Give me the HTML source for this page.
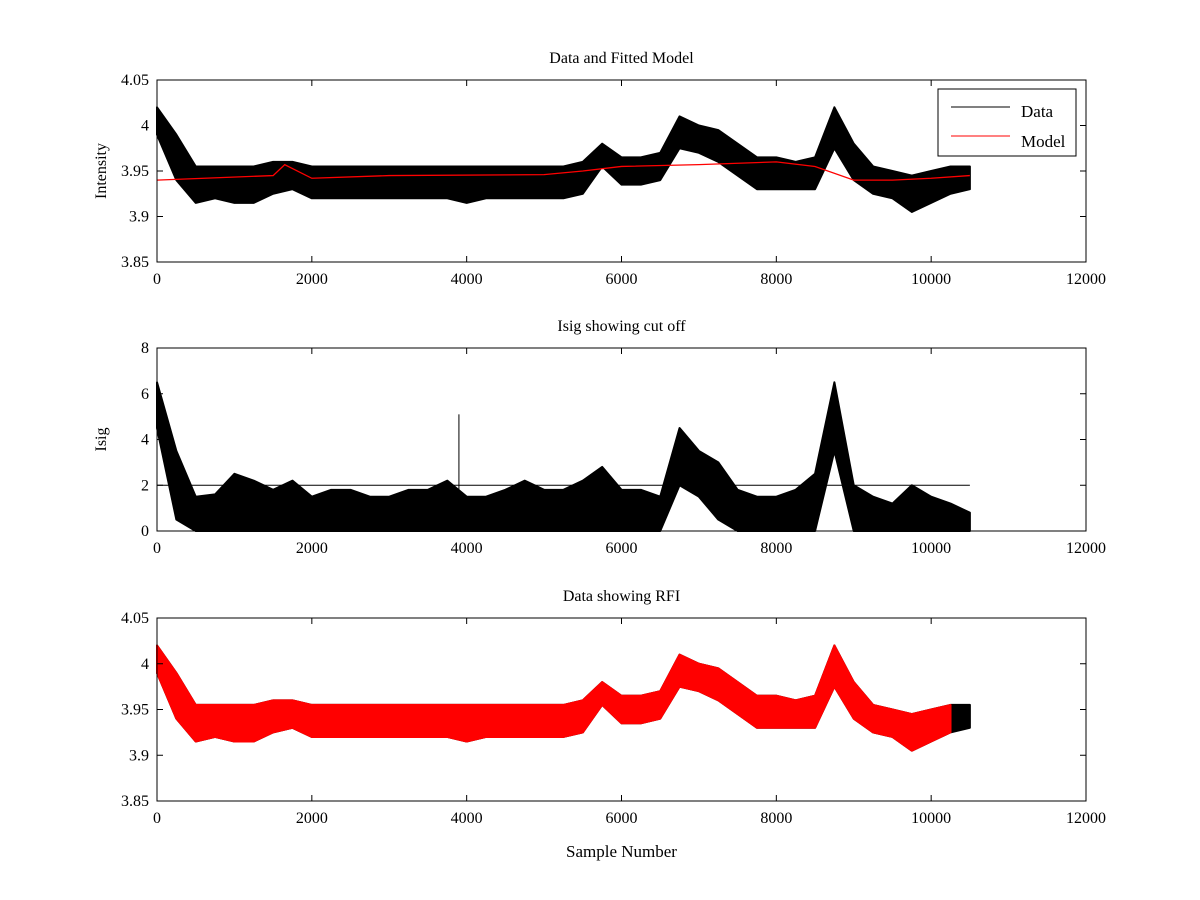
<!DOCTYPE html>
<html><head><meta charset="utf-8"><style>
body{margin:0;background:#fff}
svg{display:block;font-family:"Liberation Serif",serif}
</style></head><body>
<svg id="chart" width="1200" height="900" xmlns="http://www.w3.org/2000/svg"></svg>
<script>
// sample positions of the bins (every 250 samples)
const samples = [0,250,500,750,1000,1250,1500,1750,2000,2250,2500,2750,3000,3250,3500,3750,4000,4250,4500,4750,5000,5250,5500,5750,6000,6250,6500,6750,7000,7250,7500,7750,8000,8250,8500,8750,9000,9250,9500,9750,10000,10250,10500];
const dataMid  = [4.01,3.97,3.94,3.935,3.935,3.94,3.945,3.945,3.94,3.94,3.94,3.94,3.935,3.935,3.94,3.935,3.935,3.935,3.935,3.935,3.94,3.94,3.945,3.97,3.95,3.95,3.955,3.995,3.99,3.98,3.965,3.95,3.945,3.945,3.95,3.995,3.96,3.94,3.935,3.925,3.935,3.94,3.945];
const dataLow  = [3.99,3.94,3.915,3.92,3.915,3.915,3.925,3.93,3.92,3.92,3.92,3.92,3.92,3.92,3.92,3.92,3.915,3.92,3.92,3.92,3.92,3.92,3.925,3.955,3.935,3.935,3.94,3.975,3.97,3.96,3.945,3.93,3.93,3.93,3.93,3.975,3.94,3.925,3.92,3.905,3.915,3.925,3.93];
const dataHigh = [4.02,3.99,3.955,3.955,3.955,3.955,3.96,3.96,3.955,3.955,3.955,3.955,3.955,3.955,3.955,3.955,3.955,3.955,3.955,3.955,3.955,3.955,3.96,3.98,3.965,3.965,3.97,4.01,4.0,3.995,3.98,3.965,3.965,3.96,3.965,4.02,3.98,3.955,3.95,3.945,3.95,3.955,3.955];
const modelX = [0,1500,1650,2000,3000,5000,5500,6000,7000,8000,8500,9000,9500,10000,10500];
const modelY = [3.94,3.945,3.957,3.942,3.945,3.946,3.95,3.955,3.957,3.96,3.955,3.94,3.94,3.942,3.945];
const isigLow  = [4.5,0.5,0,0,0,0,0,0,0,0,0,0,0,0,0,0,0,0,0,0,0,0,0,0,0,0,0,2,1.5,0.5,0,0,0,0,0,3.5,0,0,0,0,0,0,0];
const isigHigh = [6.5,3.5,1.5,1.6,2.5,2.2,1.8,2.2,1.5,1.8,1.8,1.5,1.5,1.8,1.8,2.2,1.5,1.5,1.8,2.2,1.8,1.8,2.2,2.8,1.8,1.8,1.5,4.5,3.5,3,1.8,1.5,1.5,1.8,2.5,6.5,2,1.5,1.2,2,1.5,1.2,0.8];
const cutoff = 2;
const xTicks = [0,2000,4000,6000,8000,10000,12000];

const NS="http://www.w3.org/2000/svg";
const svg=document.getElementById('chart');
function el(tag,attrs,parent){const e=document.createElementNS(NS,tag);for(const k in attrs)e.setAttribute(k,attrs[k]);(parent||svg).appendChild(e);return e;}
const L=157,R=1086;
const xs=v=>L+(v/12000)*(R-L);

function axes(name,top,bot,ymin,ymax,yTicks,title,ylabel,xlabel){
  const g=el('g',{});
  
  
  const ys=v=>bot-(v-ymin)/(ymax-ymin)*(bot-top);
  const r=el('rect',{x:L,y:top,width:R-L,height:bot-top,fill:'#fff',stroke:'#000','stroke-width':1},g);
  
  return {g,ys,draw(){
    xTicks.forEach(t=>{const x=xs(t);
      el('line',{x1:x,x2:x,y1:bot,y2:bot-6,stroke:'#000'},g);
      el('line',{x1:x,x2:x,y1:top,y2:top+6,stroke:'#000'},g);
      const tx=el('text',{x:x,y:bot+22,'text-anchor':'middle','font-size':16},g);tx.textContent=t;
      });
    yTicks.forEach(t=>{const y=ys(t);
      el('line',{x1:L,x2:L+6,y1:y,y2:y,stroke:'#000'},g);
      el('line',{x1:R,x2:R-6,y1:y,y2:y,stroke:'#000'},g);
      const tx=el('text',{x:L-8,y:y+5,'text-anchor':'end','font-size':16},g);tx.textContent=t;
      });
    el('rect',{x:L,y:top,width:R-L,height:bot-top,fill:'none',stroke:'#000'},g);
    const tt=el('text',{x:(L+R)/2,y:top-17,'text-anchor':'middle','font-size':16},g);tt.textContent=title;
    
    if(ylabel){const yl=el('text',{x:0,y:0,'text-anchor':'middle','font-size':16,transform:`translate(106,${(top+bot)/2}) rotate(-90)`},g);yl.textContent=ylabel;
      }
    if(xlabel){const xl=el('text',{x:(L+R)/2,y:bot+56,'text-anchor':'middle','font-size':17},g);xl.textContent=xlabel;
      }
  }};
}
function band(g,ys,low,high,color,name,xmax){
  const idx=samples.map((s,i)=>i).filter(i=>samples[i]<=xmax);
  const pts=idx.map(i=>xs(samples[i])+','+ys(high[i])).concat(idx.slice().reverse().map(i=>xs(samples[i])+','+ys(low[i])));
  const p=el('polygon',{points:pts.join(' '),fill:color,stroke:color,'stroke-width':2,'stroke-linejoin':'round'},g);
  
}
function line(g,ys,xa,ya,color,name,w){
  const p=el('polyline',{points:xa.map((x,i)=>xs(x)+','+ys(ya[i])).join(' '),fill:'none',stroke:color,'stroke-width':w||1},g);
  
}

// Panel 1
const a1=axes('data-model-panel',80,262,3.85,4.05,[3.85,3.9,3.95,4,4.05],'Data and Fitted Model','Intensity');
band(a1.g,a1.ys,dataLow,dataHigh,'#000','data-series',10500);
line(a1.g,a1.ys,modelX,modelY,'#f00','model-series',1.3);
a1.draw();
const lg=el('g',{});
el('rect',{x:938,y:89,width:138,height:67,fill:'#fff',stroke:'#000'},lg);
el('line',{x1:951,x2:1010,y1:107,y2:107,stroke:'#000'},lg);
el('line',{x1:951,x2:1010,y1:136,y2:136,stroke:'#f00'},lg);
const l1=el('text',{x:1021,y:117,'font-size':17},lg);l1.textContent='Data';
const l2=el('text',{x:1021,y:147,'font-size':17},lg);l2.textContent='Model';

// Panel 2
const a2=axes('isig-panel',348,531,0,8,[0,2,4,6,8],'Isig showing cut off','Isig');
band(a2.g,a2.ys,isigLow,isigHigh,'#000','isig-series',10500);
line(a2.g,a2.ys,[0,10500],[cutoff,cutoff],'#000','cutoff-line',1);
const spike=el('line',{x1:xs(3900),x2:xs(3900),y1:a2.ys(0),y2:a2.ys(5.1),stroke:'#000'},a2.g);

a2.draw();

// Panel 3
const a3=axes('rfi-panel',618,801,3.85,4.05,[3.85,3.9,3.95,4,4.05],'Data showing RFI',null,'Sample Number');
band(a3.g,a3.ys,dataLow,dataHigh,'#000','data-series-black',10500);
band(a3.g,a3.ys,dataLow,dataHigh,'#f00','rfi-series',10300);
a3.draw();
</script>
</body></html>
